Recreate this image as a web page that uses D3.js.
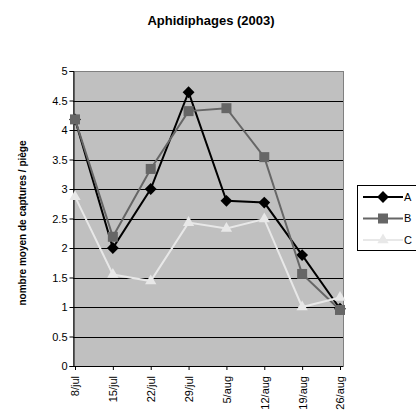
<!DOCTYPE html>
<html>
<head>
<meta charset="utf-8">
<script src="https://cdn.jsdelivr.net/npm/d3@7"></script>
<style>
  body { margin: 0; background: #fff; }
  text { font-family: "Liberation Sans", Arial, sans-serif; }
</style>
</head>
<body>
<svg id="chart" width="416" height="414"></svg>
<script>
var dates = ["8/jul","15/jul","22/jul","29/jul","5/aug","12/aug","19/aug","26/aug"];
var seriesA = [4.18, 2.0, 3.0, 4.64, 2.8, 2.77, 1.88, 0.97];
var seriesB = [4.18, 2.19, 3.34, 4.32, 4.37, 3.54, 1.56, 0.95];
var seriesC = [2.87, 1.55, 1.44, 2.43, 2.33, 2.49, 1.0, 1.16];
var yTicks = [0, 0.5, 1, 1.5, 2, 2.5, 3, 3.5, 4, 4.5, 5];
var seriesNames = ["A", "B", "C"];

var svg = d3.select("#chart");

// plot area
var plotLeft = 73, plotRight = 343, plotTop = 71, plotBottom = 366;

var x = d3.scalePoint().domain(dates).range([75, 340]);
var y = d3.scaleLinear().domain([0, 5]).range([plotBottom, plotTop]);

svg.append("rect")
    .attr("x", plotLeft + 0.5).attr("y", plotTop + 0.5)
    .attr("width", plotRight - plotLeft).attr("height", plotBottom - plotTop)
    .attr("fill", "#c0c0c0")
    .attr("stroke", "#808080");

// gridlines
svg.append("g").selectAll("line")
    .data(yTicks.filter(function(d){ return d > 0 && d < 5; }))
    .enter().append("line")
    .attr("x1", plotLeft).attr("x2", plotRight)
    .attr("y1", function(d){ return Math.round(y(d)) + 0.5; })
    .attr("y2", function(d){ return Math.round(y(d)) + 0.5; })
    .attr("stroke", "#000");

// y axis
var yAxis = d3.axisLeft(y).tickValues(yTicks).tickSize(4).tickFormat(function(d){ return d; });
var gy = svg.append("g").attr("transform", "translate(" + (plotLeft + 0.5) + ",0)").call(yAxis);
gy.select(".domain").attr("stroke", "#000");
gy.selectAll("text").attr("font-size", 11).attr("fill", "#000").attr("x", -6);

// x axis
var xAxis = d3.axisBottom(x).tickSize(4);
var gx = svg.append("g").attr("transform", "translate(0," + plotBottom + ")").call(xAxis);
gx.select(".domain").attr("d", "M" + plotLeft + ",0.5H" + plotRight).attr("stroke", "#000");
gx.selectAll("text")
    .attr("font-size", 11).attr("fill", "#000")
    .attr("transform", "rotate(-90)")
    .attr("x", -10).attr("y", 0).attr("dy", "0.35em")
    .attr("text-anchor", "end");

var line = d3.line()
    .x(function(d, i){ return x(dates[i]); })
    .y(function(d){ return y(d); });

// diamond = square turned 45 degrees (Excel style)
var styles = [
    { data: seriesA, color: "#000000", shape: d3.symbolSquare, size: 70, rot: 45 },
    { data: seriesB, color: "#666666", shape: d3.symbolSquare, size: 100, rot: 0 },
    { data: seriesC, color: "#e8e8e8", shape: d3.symbolTriangle, size: 55, rot: 0 }
];

// series drawn in order, later ones on top
styles.forEach(function(s){
    svg.append("path")
        .datum(s.data)
        .attr("fill", "none")
        .attr("stroke", s.color)
        .attr("stroke-width", 2)
        .attr("d", line);
    svg.append("g").selectAll("path")
        .data(s.data)
        .enter().append("path")
        .attr("transform", function(d, i){
            return "translate(" + x(dates[i]) + "," + y(d) + ") rotate(" + s.rot + ")";
        })
        .attr("d", d3.symbol().type(s.shape).size(s.size))
        .attr("fill", s.color);
});

// title
svg.append("text")
    .attr("x", 211).attr("y", 25)
    .attr("text-anchor", "middle")
    .attr("font-size", 13).attr("font-weight", "bold")
    .text("Aphidiphages (2003)");

// y label
svg.append("text")
    .attr("transform", "translate(26,223) rotate(-90)")
    .attr("text-anchor", "middle")
    .attr("font-size", 10).attr("font-weight", "bold")
    .text("nombre moyen de captures / piège");

// legend
var lg = svg.append("g");
lg.append("rect")
    .attr("x", 357.5).attr("y", 185.5)
    .attr("width", 70).attr("height", 65)
    .attr("fill", "#fff").attr("stroke", "#000");
styles.forEach(function(s, i){
    var ly = 197 + i * 21.5;
    lg.append("line")
        .attr("x1", 363).attr("x2", 403)
        .attr("y1", ly).attr("y2", ly)
        .attr("stroke", s.color).attr("stroke-width", 2);
    lg.append("path")
        .attr("transform", "translate(383," + ly + ") rotate(" + s.rot + ")")
        .attr("d", d3.symbol().type(s.shape).size(s.size))
        .attr("fill", s.color);
    lg.append("text")
        .attr("x", 404).attr("y", ly).attr("dy", "0.35em")
        .attr("font-size", 11)
        .text(seriesNames[i]);
});
</script>
</body>
</html>
